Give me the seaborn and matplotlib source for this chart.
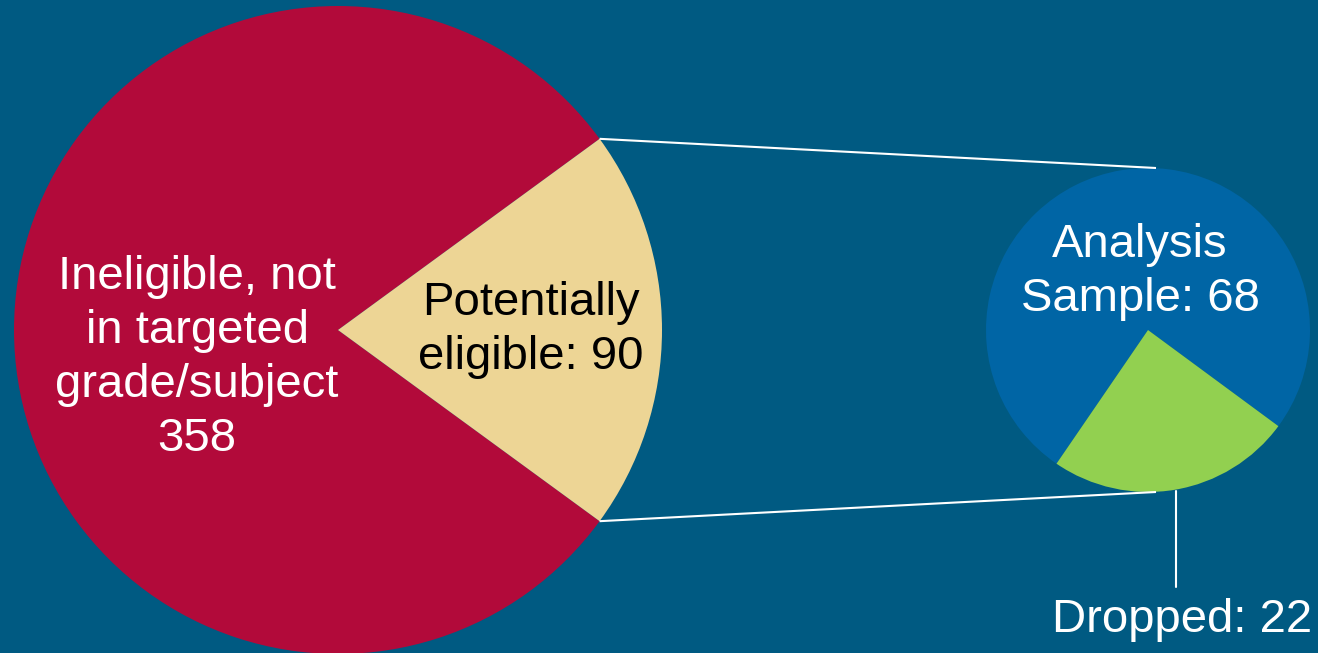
import matplotlib
matplotlib.use("Agg")
import matplotlib.pyplot as plt
import seaborn as sns
import numpy as np

# ---- data ----
main_labels = ["Ineligible, not\nin targeted\ngrade/subject\n358", "Potentially\neligible: 90"]
main_values = [358, 90]
sub_labels = ["Analysis\nSample: 68", "Dropped: 22"]
sub_values = [68, 22]

# ---- style ----
BG = "#005A82"
main_colors = ["#B20A3A", "#EDD595"]
sub_colors = ["#0065A5", "#92D050"]

sns.set_theme(style="white")
plt.rcParams["font.family"] = ["Liberation Sans", "DejaVu Sans"]

W, H = 1318, 653
fig = plt.figure(figsize=(W / 100, H / 100), dpi=100, facecolor=BG)
ax = fig.add_axes([0, 0, 1, 1])
ax.set_facecolor(BG)

# big pie geometry (pixel-based data coords, y up)
big_c = (338, H - 330)
big_r = 324
big_frac = main_values[1] / sum(main_values)
big_start = big_frac * 180.0  # centre the highlighted slice on 0 deg

ax.pie(main_values, colors=main_colors, startangle=big_start, radius=big_r,
       center=big_c, frame=True, wedgeprops=dict(linewidth=0))

# small pie geometry
small_c = (1148, H - 330)
small_r = 162
small_start = -36.4
ax.pie(sub_values, colors=sub_colors, startangle=small_start, radius=small_r,
       center=small_c, frame=True, wedgeprops=dict(linewidth=0))

# connector lines from the highlighted slice to the small pie
a = np.deg2rad(big_start)
x0 = big_c[0] + big_r * np.cos(a)
y_top = big_c[1] + big_r * np.sin(a)
y_bot = big_c[1] - big_r * np.sin(a)
x1 = small_c[0] + 8
ax.plot([x0, x1], [y_top, small_c[1] + small_r], color="white", lw=1.5, solid_capstyle="butt")
ax.plot([x0, x1], [y_bot, small_c[1] - small_r], color="white", lw=1.5, solid_capstyle="butt")

# leader line for "Dropped"
lx = small_c[0] + 28
ax.plot([lx, lx], [small_c[1] - small_r + 1, H - 587], color="white", lw=1.5)

FS = 34
LS = 1.3
ax.text(197, H - 358, main_labels[0], ha="center", va="center", color="white",
        fontsize=FS, linespacing=LS)
ax.text(531, H - 330, main_labels[1], ha="center", va="center", color="black",
        fontsize=FS, linespacing=LS)
ax.text(1140, H - 272, sub_labels[0], ha="center", va="center", color="white",
        fontsize=FS, linespacing=LS)
ax.text(1182, H - 620, sub_labels[1], ha="center", va="center", color="white",
        fontsize=FS)

ax.set_xlim(0, W)
ax.set_ylim(0, H)
ax.set_aspect("equal")
ax.axis("off")

fig.savefig("out.png", dpi=100, facecolor=BG)
